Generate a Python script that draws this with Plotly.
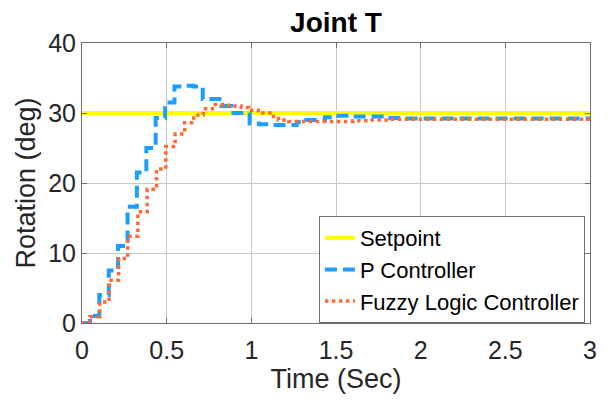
import plotly.graph_objects as go

# ---- data ----
t_set = [0, 3]
y_set = [30, 30]

t_p = [0, 0.047, 0.102, 0.158, 0.213, 0.269, 0.324, 0.38, 0.435, 0.491, 0.546, 0.602,
       0.658, 0.713, 0.769, 0.824, 0.88, 0.935, 0.99, 1.046, 1.10, 1.157, 1.213, 1.268,
       1.324, 1.38, 1.435, 1.49, 1.546, 1.6, 1.66, 1.8, 1.9, 3.0]
y_p = [0, 1.0, 4.0, 7.5, 11.0, 16.6, 21.5, 25.0, 29.3, 31.5, 33.8, 33.9,
       33.8, 32.0, 32.0, 31.0, 30.0, 30.0, 28.5, 28.4, 28.3, 28.3, 28.3, 28.7,
       29.0, 29.0, 29.4, 29.6, 29.6, 29.5, 29.5, 29.3, 29.2, 29.2]

t_f = [0, 0.047, 0.105, 0.16, 0.216, 0.27, 0.33, 0.385, 0.44, 0.495, 0.55, 0.606,
       0.66, 0.716, 0.77, 0.83, 0.88, 0.94, 0.985, 1.04, 1.11, 1.16, 1.22, 1.5,
       1.6, 1.7, 1.82, 3.0]
y_f = [0, 0.9, 3.0, 6.1, 9.2, 12.4, 15.9, 19.1, 22.0, 25.2, 27.0, 28.6,
       29.7, 30.6, 31.2, 31.1, 31.0, 30.8, 30.4, 30.0, 29.5, 29.0, 28.8, 28.8,
       28.9, 29.0, 29.1, 29.1]

x_ticks = [0, 0.5, 1, 1.5, 2, 2.5, 3]
x_ticklabels = ["0", "0.5", "1", "1.5", "2", "2.5", "3"]
y_ticks = [0, 10, 20, 30, 40]

FONT = "Liberation Sans, Arial, sans-serif"
TXT = "#262626"

fig = go.Figure()
fig.add_trace(go.Scatter(x=t_set, y=y_set, mode="lines", name="Setpoint",
                         line=dict(color="#FFFF00", width=4)))
fig.add_trace(go.Scatter(x=t_p, y=y_p, mode="lines", name="P Controller",
                         line=dict(color="#1A9FFF", width=4, dash="12px,6px", shape="hv")))
fig.add_trace(go.Scatter(x=t_f, y=y_f, mode="lines", name="Fuzzy Logic Controller",
                         line=dict(color="#FF6A33", width=3.5, dash="dot", shape="hv")))

axis_common = dict(
    showgrid=True, gridcolor="#C8C8C8", gridwidth=1,
    showline=True, linecolor="#6E6E6E", linewidth=1, mirror="ticks",
    ticks="inside", ticklen=5, tickcolor="#6E6E6E",
    tickfont=dict(family=FONT, size=25, color=TXT),
    zeroline=False,
)

fig.update_layout(
    width=609, height=401,
    margin=dict(l=82, r=15, t=43, b=78),
    paper_bgcolor="white", plot_bgcolor="white",
    font=dict(family=FONT, color=TXT),
    title=dict(text="<b>Joint T</b>", x=0.5, xref="paper", xanchor="center",
               y=0.945, yanchor="middle",
               font=dict(family=FONT, size=28, color="black")),
    xaxis=dict(range=[0, 3], tickvals=x_ticks, ticktext=x_ticklabels, ticklabelstandoff=5,
               title=dict(text="Time (Sec)", font=dict(family=FONT, size=27, color=TXT), standoff=6),
               **axis_common),
    yaxis=dict(range=[0, 40], tickvals=y_ticks,
               title=dict(text="Rotation (deg)", font=dict(family=FONT, size=27, color=TXT), standoff=4),
               **axis_common),
    legend=dict(x=0.99, xanchor="right", y=0.0, yanchor="bottom",
                bgcolor="white", bordercolor="#6E6E6E", borderwidth=1,
                font=dict(family=FONT, size=22, color="black"),
                itemwidth=30, tracegroupgap=0),
    showlegend=True,
)

fig.write_html("out.html")
